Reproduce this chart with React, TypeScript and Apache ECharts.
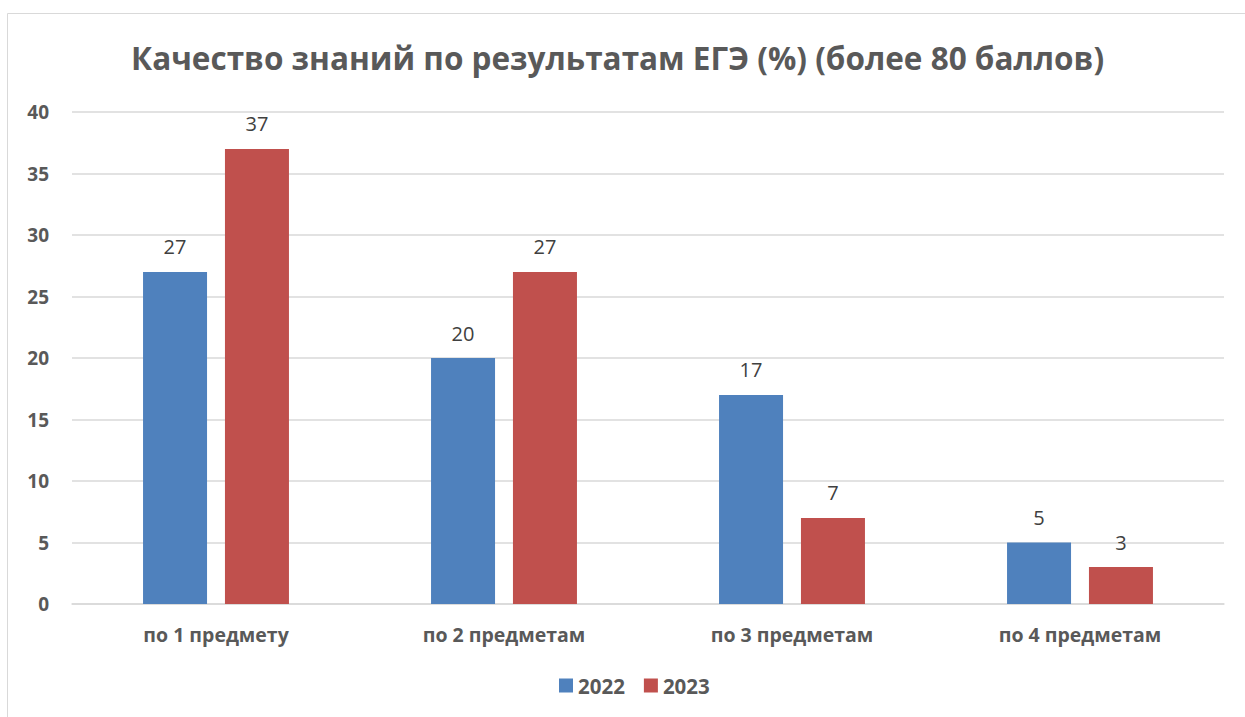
import React, { useEffect, useRef } from "react";
import * as echarts from "echarts";

const categories = ["по 1 предмету", "по 2 предметам", "по 3 предметам", "по 4 предметам"];
const series2022 = [27, 20, 17, 5];
const series2023 = [37, 27, 7, 3];
const seriesNames = ["2022", "2023"];
const titleText = "Качество знаний по результатам ЕГЭ (%) (более 80 баллов)";

export default function App() {
  const ref = useRef<HTMLDivElement>(null);
  useEffect(() => {
    const chart = echarts.init(ref.current!, null, { renderer: "svg" });
    const font = "'Open Sans', 'Liberation Sans', sans-serif";
    chart.setOption({
      animation: false,
      backgroundColor: "#ffffff",
      textStyle: { fontFamily: font },
      title: {
        text: titleText,
        left: 126,
        top: 36,
        textStyle: { fontSize: 31.5, fontWeight: "bold", color: "#595959", fontFamily: font },
      },
      graphic: [
        {
          type: "rect",
          shape: { x: 7.5, y: 13.5, width: 1300, height: 800 },
          style: { fill: "none", stroke: "#d9d9d9", lineWidth: 1 },
          silent: true,
        },
      ],
      legend: {
        bottom: 16,
        left: 554,
        itemWidth: 14,
        itemHeight: 14,
        itemGap: 19,
        icon: "rect",
        textStyle: { fontSize: 20.5, fontWeight: "bold", color: "#595959", fontFamily: font },
        data: seriesNames,
      },
      grid: { left: 72, right: 21, top: 112, bottom: 113, containLabel: false },
      xAxis: {
        type: "category",
        data: categories,
        axisLine: { lineStyle: { color: "#d9d9d9", width: 1.5 } },
        axisTick: { show: false },
        axisLabel: { fontSize: 19.5, fontWeight: "bold", color: "#595959", margin: 20, fontFamily: font },
      },
      yAxis: {
        type: "value",
        min: 0,
        max: 40,
        interval: 5,
        axisLine: { show: false },
        axisTick: { show: false },
        splitLine: { lineStyle: { color: "#d9d9d9", width: 1.5 } },
        axisLabel: { fontSize: 19, fontWeight: "bold", color: "#595959", margin: 23, fontFamily: font },
      },
      series: [
        {
          name: seriesNames[0],
          type: "bar",
          data: series2022,
          barWidth: 64,
          barGap: "28%",
          itemStyle: { color: "#4f81bd" },
          label: { show: true, position: "top", distance: 15, fontSize: 20, color: "#404040", fontFamily: font },
        },
        {
          name: seriesNames[1],
          type: "bar",
          data: series2023,
          barWidth: 64,
          barGap: "28%",
          itemStyle: { color: "#c0504d" },
          label: { show: true, position: "top", distance: 15, fontSize: 20, color: "#404040", fontFamily: font },
        },
      ],
    });
    return () => chart.dispose();
  }, []);
  return (
    <div
      ref={ref}
      style={{ position: "absolute", left: 0, top: 0, width: 1245, height: 717 }}
    />
  );
}
